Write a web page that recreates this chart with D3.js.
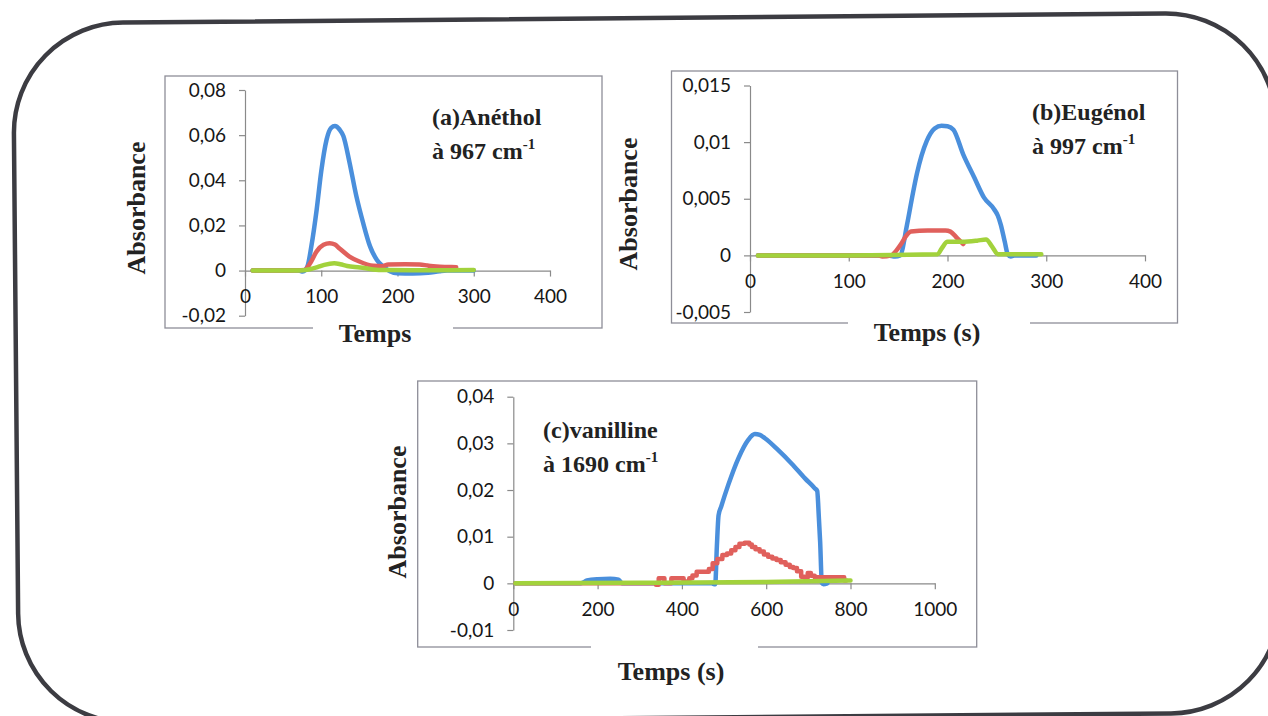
<!DOCTYPE html>
<html>
<head>
<meta charset="utf-8">
<script src="https://cdn.jsdelivr.net/npm/d3@7"></script>
<style>
  html, body { margin: 0; padding: 0; background: #fff; }
  svg { display: block; }
  .tick text { font-family: Lato, "Open Sans", sans-serif; font-size: 19px; fill: #161616; }
  .axis-title, .panel-title { font-family: "Liberation Serif", "Times New Roman", serif; font-weight: bold; fill: #222; }
</style>
</head>
<body>
<svg id="chart" width="1268" height="716"></svg>
<script>
// ---- Data: absorbance vs time, three compounds, three series each ----

// (a) Anéthol at 967 cm-1
const anetholTicksX = [0, 100, 200, 300, 400];
const anetholTicksY = [-0.02, 0, 0.02, 0.04, 0.06, 0.08];
const anetholBlue = [[10,0],[40,0],[70,0],[76,-0.0004],[82,0.002],[87,0.0107],[94,0.027],[100,0.044],[107,0.058],[113,0.0632],[118,0.064],[124,0.0625],[129,0.0596],[137,0.048],[146,0.033],[155,0.021],[164,0.0107],[173,0.0047],[181,0.0018],[190,-0.0003],[200,-0.0012],[220,-0.0013],[240,-0.001],[255,-0.0003],[265,0],[300,0]];
const anetholRed = [[10,0],[60,0],[78,0.0003],[85,0.003],[94,0.0085],[103,0.0114],[111,0.0121],[118,0.0115],[124,0.0098],[137,0.0062],[150,0.004],[168,0.0021],[180,0.0019],[188,0.0027],[210,0.0028],[229,0.0027],[240,0.0022],[251,0.0018],[265,0.0016],[277,0.0015]];
const anetholGreen = [[10,0],[70,0],[85,0.0006],[95,0.0015],[104,0.0025],[117,0.0032],[125,0.0028],[134,0.002],[151,0.0014],[168,0.0005],[185,0.0002],[220,0.0001],[300,0.0002]];

// (b) Eugénol at 997 cm-1
const eugenolTicksX = [0, 100, 200, 300, 400];
const eugenolTicksY = [-0.005, 0, 0.005, 0.01, 0.015];
const eugenolBlue = [[8,0],[100,0],[140,0],[147,-0.0001],[152,0],[159,0.0027],[165,0.0055],[169,0.0072],[179,0.0101],[187,0.0112],[194,0.01145],[200,0.0114],[206,0.0111],[216,0.0089],[227,0.0069],[237,0.0051],[247,0.0041],[251,0.0035],[254,0.0027],[258,0.0012],[261,0.0001],[264,-0.0001],[268,0],[290,0]];
const eugenolRed = [[8,0],[130,0],[134,-0.0001],[143,0],[147,0.0003],[153,0.001],[158,0.0017],[163,0.0021],[180,0.0022],[198,0.0022],[203,0.0021],[210,0.0015],[216,0.001]];
const eugenolGreen = [[8,0],[100,0],[190,0.0001],[194,0.0006],[200,0.0012],[215,0.0012],[230,0.0013],[239,0.0014],[245,0.0008],[251,0.0001],[260,0.0001],[295,0.0001]];

// (c) vanilline at 1690 cm-1
const vanillineTicksX = [0, 200, 400, 600, 800, 1000];
const vanillineTicksY = [-0.01, 0, 0.01, 0.02, 0.03, 0.04];
const vanillineBlue = [[5,0],[160,0],[175,0.0006],[200,0.0009],[230,0.001],[250,0.0008],[258,0],[470,0],[479,-0.0002],[483,0.008],[487,0.0146],[493,0.0164],[510,0.0211],[534,0.0268],[557,0.0307],[573,0.032],[585,0.0318],[597,0.0311],[628,0.0286],[660,0.0257],[692,0.0225],[715,0.0204],[721,0.0198],[725,0.014],[728,0.0089],[732,0.0001],[736,-0.0002],[745,0]];
const vanillineRed = [[5,0],[335,0],[342,-0.0003],[348,0.0011],[355,0.0011],[362,0],[372,0],[378,0.0011],[400,0.0011],[408,0.0004],[415,0.0004],[420,0.0011],[430,0.0017],[440,0.0025],[460,0.0025],[468,0.0031],[478,0.0043],[490,0.0052],[502,0.0061],[512,0.0064],[522,0.0071],[532,0.0078],[541,0.0085],[557,0.0087],[563,0.0083],[569,0.0078],[580,0.0073],[589,0.0068],[600,0.0062],[609,0.0057],[620,0.0053],[629,0.005],[640,0.0045],[652,0.004],[660,0.0035],[668,0.0033],[678,0.0026],[688,0.0014],[695,0.0012],[702,0.0022],[710,0.0016],[720,0.0013],[780,0.0013],[790,0.0006]];
const vanillineGreen = [[5,0],[300,0.0001],[600,0.0003],[800,0.0006]];

const seriesColors = { blue: "#4a8fdc", red: "#e0605c", green: "#a2d23c" };

// ---- Layout of the three panels ----
const panels = [
  {
    name: "(a)Anéthol", band: "à 967 cm", xTitle: "Temps",
    ticksX: anetholTicksX, ticksY: anetholTicksY,
    series: [["blue", anetholBlue], ["red", anetholRed], ["green", anetholGreen]],
    box: { x: 165, y: 76, w: 437, h: 252 },
    xRange: [245, 550], yRange: [315.7, 90],
    titlePos: [432, 125], yTitlePos: [145, 208], xTitlePos: [375, 342], gap: [313, 453]
  },
  {
    name: "(b)Eugénol", band: "à 997 cm", xTitle: "Temps (s)",
    ticksX: eugenolTicksX, ticksY: eugenolTicksY,
    series: [["blue", eugenolBlue], ["red", eugenolRed], ["green", eugenolGreen]],
    box: { x: 671.5, y: 71, w: 506, h: 252 },
    xRange: [750, 1145], yRange: [312, 85.5],
    titlePos: [1032, 120], yTitlePos: [637, 204], xTitlePos: [927, 341], gap: [848, 1030]
  },
  {
    name: "(c)vanilline", band: "à 1690 cm", xTitle: "Temps (s)",
    ticksX: vanillineTicksX, ticksY: vanillineTicksY,
    series: [["blue", vanillineBlue], ["red", vanillineRed, "step"], ["green", vanillineGreen]],
    box: { x: 417.7, y: 381, w: 559, h: 266 },
    xRange: [513.3, 934.8], yRange: [630, 396.7],
    titlePos: [543, 438], yTitlePos: [406, 512], xTitlePos: [671, 680], gap: [591, 758]
  }
];

const svg = d3.select("#chart");

// Rounded outer frame, slightly tilted
const frame = { x: 16, y: 18, w: 1262, h: 700, r: 110 };
svg.append("rect")
  .attr("x", frame.x).attr("y", frame.y)
  .attr("width", frame.w).attr("height", frame.h)
  .attr("rx", frame.r).attr("ry", frame.r)
  .attr("fill", "none")
  .attr("stroke", "#3c3c42")
  .attr("stroke-width", 4.5)
  .attr("transform", `rotate(-0.5, ${frame.x + frame.w / 2}, ${frame.y + frame.h / 2})`);

const fmt = d => d === 0 ? "0" : String(d).replace(".", ",");

panels.forEach(p => {
  const g = svg.append("g");
  const xDomainMax = p.ticksX[p.ticksX.length - 1];
  const x = d3.scaleLinear().domain([0, xDomainMax]).range(p.xRange);
  const y = d3.scaleLinear()
    .domain([p.ticksY[0], p.ticksY[p.ticksY.length - 1]])
    .range(p.yRange);

  // panel box
  g.append("rect")
    .attr("x", p.box.x).attr("y", p.box.y)
    .attr("width", p.box.w).attr("height", p.box.h)
    .attr("fill", "#fff")
    .attr("stroke", "#8e8e98")
    .attr("stroke-width", 1.3);

  // y axis
  const yAxis = g.append("g")
    .attr("transform", `translate(${x(0)},0)`)
    .call(d3.axisLeft(y).tickValues(p.ticksY).tickFormat(fmt)
      .tickSize(6).tickSizeOuter(0).tickPadding(13));

  // x axis along the zero line
  const xAxis = g.append("g")
    .attr("transform", `translate(0,${y(0)})`)
    .call(d3.axisBottom(x).tickValues(p.ticksX).tickFormat(fmt)
      .tickSize(6).tickSizeOuter(0).tickPadding(13));

  [yAxis, xAxis].forEach(a => {
    a.select(".domain").attr("stroke", "#8a8a8a").attr("stroke-width", 1.2);
    a.selectAll(".tick line").attr("stroke", "#8a8a8a").attr("stroke-width", 1.2);
    a.selectAll(".tick text").attr("font-family", null).attr("font-size", null);
  });

  // series
  p.series.forEach(([color, data, kind]) => {
    const line = d3.line()
      .x(d => x(d[0]))
      .y(d => y(d[1]))
      .curve(kind === "step" ? d3.curveStep : d3.curveMonotoneX);
    g.append("path")
      .datum(data)
      .attr("d", line)
      .attr("fill", "none")
      .attr("stroke", seriesColors[color])
      .attr("stroke-width", 4.5)
      .attr("stroke-linejoin", "round")
      .attr("stroke-linecap", "round");
  });

  // panel title with wavenumber
  g.append("text")
    .attr("class", "panel-title")
    .attr("x", p.titlePos[0]).attr("y", p.titlePos[1])
    .attr("font-size", 24)
    .text(p.name);
  const t2 = g.append("text")
    .attr("class", "panel-title")
    .attr("x", p.titlePos[0]).attr("y", p.titlePos[1] + 34)
    .attr("font-size", 24);
  t2.append("tspan").text(p.band);
  t2.append("tspan").attr("dy", -10).attr("font-size", 15).text("-1");

  // gap in box border under the x title
  g.append("rect")
    .attr("x", p.gap[0]).attr("y", p.box.y + p.box.h - 3)
    .attr("width", p.gap[1] - p.gap[0]).attr("height", 6)
    .attr("fill", "#fff");

  // axis titles
  g.append("text")
    .attr("class", "axis-title")
    .attr("font-size", 26)
    .attr("text-anchor", "middle")
    .attr("transform", `translate(${p.yTitlePos[0]},${p.yTitlePos[1]}) rotate(-90)`)
    .text("Absorbance");
  g.append("text")
    .attr("class", "axis-title")
    .attr("font-size", 26)
    .attr("text-anchor", "middle")
    .attr("x", p.xTitlePos[0]).attr("y", p.xTitlePos[1])
    .text(p.xTitle);
});
</script>
</body>
</html>
